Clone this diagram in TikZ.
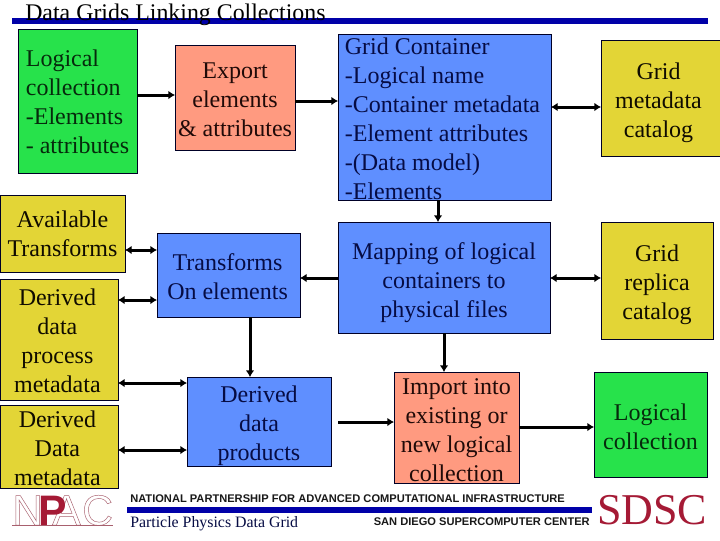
\documentclass[tikz,border=0pt]{standalone}
\usepackage{fontspec}
\setmainfont{Liberation Serif}
\newfontfamily\footsans{Liberation Sans}
\usetikzlibrary{arrows.meta}
\definecolor{bargreen}{HTML}{27E24B}
\definecolor{barsalmon}{HTML}{FF9A80}
\definecolor{barblue}{HTML}{5F8FFF}
\definecolor{baryellow}{HTML}{E3D536}
\definecolor{txtgreen}{HTML}{062A0C}
\definecolor{txtblue}{HTML}{060C44}
\definecolor{txtyellow}{HTML}{100C00}
\definecolor{txtsalmon}{HTML}{200A08}
\definecolor{ruleblue}{HTML}{0000A8}
\definecolor{logored}{HTML}{A51A35}
\definecolor{logopale}{HTML}{A8606E}
\tikzset{
  panel/.style={draw=black!85!blue,line width=.75pt,outer sep=0pt,inner sep=0pt,align=center,
    text height=9pt,text depth=0pt,
    font=\fontsize{18}{21.75}\selectfont},
  greenbox/.style={panel,fill=bargreen,text=txtgreen},
  salmonbox/.style={panel,fill=barsalmon,text=txtsalmon},
  bluebox/.style={panel,fill=barblue,text=txtblue},
  yellowbox/.style={panel,fill=baryellow,text=txtyellow},
  oneway/.style={line width=2.25pt,-{Latex[length=5pt,width=6.5pt]}},
  twoway/.style={line width=2.25pt,{Latex[length=5pt,width=6.5pt]}-{Latex[length=5pt,width=6.5pt]}},
  rulebar/.style={fill=ruleblue,draw=none},
  footbold/.style={font=\footsans\bfseries\fontsize{8.33}{10}\selectfont,inner sep=0pt,text=black!90},
  logoletter/.style={inner sep=0pt,text=logopale,font=\footsans\fontsize{32}{32}\selectfont}
}
% style, x0, y0, x1, y1, name, dx(pt), dy(pt), text
\newcommand{\ctrtxt}[1]{\begin{tabular}{@{}c@{}}#1\end{tabular}}
\newcommand{\lfttxt}[1]{\begin{tabular}{@{}l@{}}#1\end{tabular}}
\newcommand{\pnl}[9]{%
  \node[#1,minimum width=(#4-#2)*0.75pt,minimum height=(#5-#3)*0.75pt] (#6) at ({(#2+#4)/2},{(#3+#5)/2})
  {\hbox{\kern #7pt\raisebox{#8pt}[\height][\depth]{#9}\kern -#7pt}};}
\newcommand{\outl}[1]{\special{pdf:code 1 Tr 0.35 w}#1\special{pdf:code 0 Tr 1 w}}
\begin{document}
\begin{tikzpicture}[x=.75pt,y=-.75pt]
\useasboundingbox (0,0) rectangle (720,540);
\fill[white] (0,0) rectangle (720,540);
% rules
\fill[rulebar] (12,18) rectangle (708,24);
\fill[rulebar] (127,507) rectangle (592,513);
\node[inner sep=0pt,anchor=base west,font=\fontsize{17.9}{20}\selectfont] (title) at (25,20) {Data Grids Linking Collections};
% boxes
\pnl{greenbox}{18}{29}{137}{173}{logical}{0}{-2.2}{\lfttxt{Logical\\collection\\-Elements\\- attributes}}
\pnl{salmonbox}{175}{45}{295}{150}{export}{0}{-3}{\ctrtxt{Export\\elements\\\& attributes}}
\pnl{bluebox}{338}{34}{551}{200}{container}{-1.5}{-2.8}{\lfttxt{Grid Container\\-Logical name\\-Container metadata\\-Element attributes\\-(Data model)\\-Elements}}
\pnl{yellowbox}{601}{40}{720}{156}{metacat}{-1.5}{-3}{\ctrtxt{Grid\\metadata\\catalog}}
\pnl{yellowbox}{0}{195}{125}{272}{avail}{0}{-2.2}{\ctrtxt{Available\\Transforms}}
\pnl{yellowbox}{0}{279}{118}{400}{process}{-1.2}{-2.9}{\ctrtxt{Derived\\data\\process\\metadata}}
\pnl{yellowbox}{0}{405}{118}{488}{dermeta}{-1.2}{-3}{\ctrtxt{Derived\\Data\\metadata}}
\pnl{bluebox}{157}{233}{300}{317}{transforms}{-.7}{-3}{\ctrtxt{Transforms\\On elements}}
\pnl{bluebox}{187}{377}{331}{466}{products}{0}{-3.2}{\ctrtxt{Derived\\data\\products}}
\pnl{bluebox}{338}{222}{550}{333}{mapping}{0}{-3.7}{\ctrtxt{Mapping of logical\\containers to\\physical files}}
\pnl{salmonbox}{394}{372}{519}{483}{import}{0}{-3.7}{\ctrtxt{Import into\\existing or\\new logical\\collection}}
\pnl{yellowbox}{601}{222}{713}{339}{replica}{0}{-3}{\ctrtxt{Grid\\replica\\catalog}}
\pnl{greenbox}{594}{372}{707}{477}{logicaltwo}{0}{-3}{\ctrtxt{Logical\\collection}}
% connectors
\draw[oneway] (logical.east |- 0,95) -- (export.west |- 0,95);
\draw[oneway] (export.east |- 0,101) -- (container.west |- 0,101);
\draw[twoway] (container.east |- 0,107) -- (metacat.west |- 0,107);
\draw[oneway] (container.south -| 438,0) -- (mapping.north -| 438,0);
\draw[oneway] (mapping.west |- 0,278) -- (transforms.east |- 0,278);
\draw[twoway] (mapping.east |- 0,278) -- (replica.west |- 0,278);
\draw[oneway] (mapping.south -| 444,0) -- (import.north -| 444,0);
\draw[twoway] (avail.east |- 0,250) -- (transforms.west |- 0,250);
\draw[twoway] (process.east |- 0,300) -- (transforms.west |- 0,300);
\draw[oneway] (transforms.south -| 250,0) -- (products.north -| 250,0);
\draw[twoway] (process.east |- 0,383) -- (products.west |- 0,383);
\draw[twoway] (dermeta.east |- 0,450) -- (products.west |- 0,450);
\coordinate (prodgap) at (338,422);
\draw[oneway] (prodgap) -- (import.west |- prodgap);
\draw[oneway] (import.east |- 0,427) -- (logicaltwo.west |- 0,427);
% footer
\node[footbold,anchor=base west] (npacname) at (130,502) {NATIONAL PARTNERSHIP FOR ADVANCED COMPUTATIONAL INFRASTRUCTURE};
\node[footbold,anchor=base east] (sdscname) at (590,525) {SAN DIEGO SUPERCOMPUTER CENTER};
\node[inner sep=0pt,anchor=base west,font=\fontsize{11.9}{13}\selectfont,text=txtblue] (ppdg) at (130,527) {Particle Physics Data Grid};
\node[inner sep=0pt,anchor=base west,text=logored,font=\fontsize{33}{33}\selectfont] (sdsc) at (597,524) {SDSC};
% logo
\node[logoletter,anchor=base west] (logon) at (12,525) {\outl{N}};
\node[logoletter,anchor=base west] (logoa) at (52,525) {\outl{A}};
\node[logoletter,anchor=base west] (logoc) at (82,525) {\outl{C}};
\node[logoletter,anchor=base west,text=logored,font=\footsans\bfseries\fontsize{32}{32}\selectfont] (logop) at (38,525) {P};
\draw[logopale,line width=.5pt] (logon.base west) -- (logoc.base east);
\end{tikzpicture}
\end{document}
